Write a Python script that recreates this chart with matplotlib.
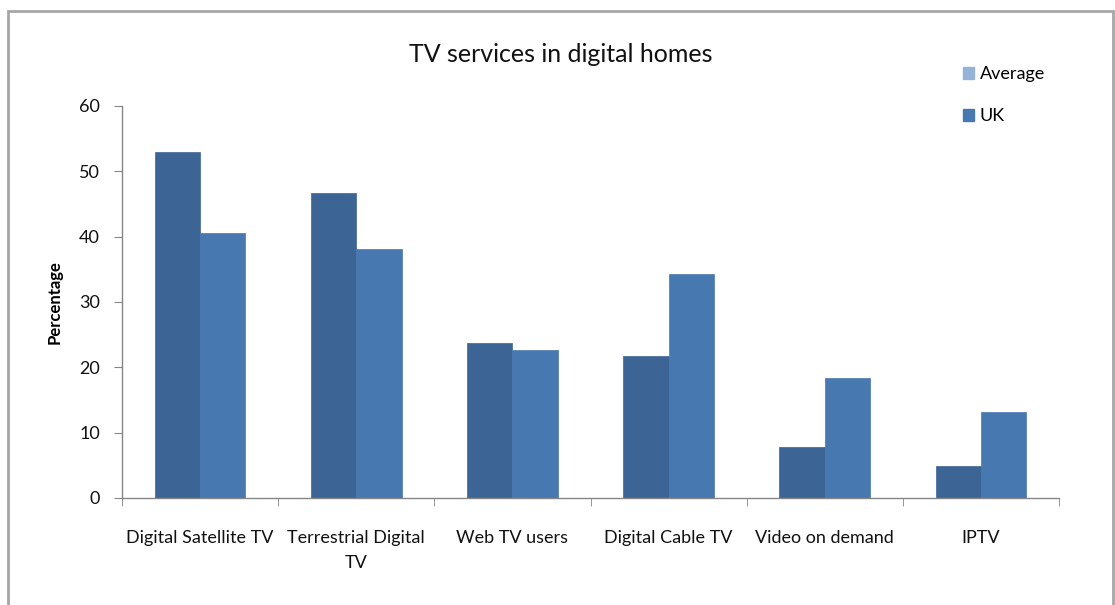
import numpy as np
import matplotlib.pyplot as plt
from matplotlib.patches import Patch, Rectangle

plt.rcParams['font.family'] = ['Lato', 'DejaVu Sans']

categories = ['Digital Satellite TV', 'Terrestrial Digital\nTV', 'Web TV users',
              'Digital Cable TV', 'Video on demand', 'IPTV']
average = [53, 46.7, 23.8, 21.8, 7.8, 4.9]
uk = [40.6, 38.1, 22.7, 34.3, 18.4, 13.1]
yticks = [0, 10, 20, 30, 40, 50, 60]

fig = plt.figure(figsize=(11.15, 6.05), dpi=100)
fig.patch.set_facecolor('white')

# outer chart frame
fig.patches.append(Rectangle((8 / 1115, -0.05), 1105 / 1115, 1.05 - 11 / 605,
                             transform=fig.transFigure, fill=False,
                             edgecolor='#a6a6a6', linewidth=2))

ax = fig.add_axes([122 / 1115, 1 - 498 / 605, (1059 - 122) / 1115, (498 - 106) / 605])

x = np.arange(len(categories))
w = 0.29
ax.bar(x - w / 2, average, w, color='#3c6494', edgecolor='#3c6494', linewidth=0.5)
ax.bar(x + w / 2, uk, w, color='#4878b0', edgecolor='#4878b0', linewidth=0.5)

ax.set_xlim(-0.5, len(categories) - 0.5)
ax.set_ylim(0, 60)
ax.set_yticks(yticks)
ax.set_yticklabels([str(t) for t in yticks], fontsize=13, color='#111111')
ax.set_xticks(x)
ax.set_xticklabels(categories, fontsize=13, linespacing=1.7, color='#111111')
ax.set_xticks(np.arange(len(categories) + 1) - 0.5, minor=True)
ax.tick_params(axis='x', which='major', length=0, pad=23)
ax.tick_params(axis='x', which='minor', length=6, color='#868686', direction='out')
ax.tick_params(axis='y', length=6, color='#868686', direction='out', pad=10)

for side in ['top', 'right']:
    ax.spines[side].set_visible(False)
for side in ['left', 'bottom']:
    ax.spines[side].set_color('#868686')
    ax.spines[side].set_linewidth(1)

ax.set_ylabel('Percentage', fontsize=12, fontweight='bold', labelpad=12)

fig.text(561 / 1115, 1 - 54 / 605, 'TV services in digital homes', fontsize=18,
         ha='center', va='center', color='#111111')

handles = [Patch(color='#95b3d7', label='Average'), Patch(color='#4878b0', label='UK')]
fig.legend(handles=handles, loc='upper left', bbox_to_anchor=(947 / 1115, 1 - 50 / 605),
           frameon=False, fontsize=13, handlelength=0.6, handleheight=0.6,
           handletextpad=0.3, labelspacing=1.45)

fig.savefig('out.png', dpi=100)
